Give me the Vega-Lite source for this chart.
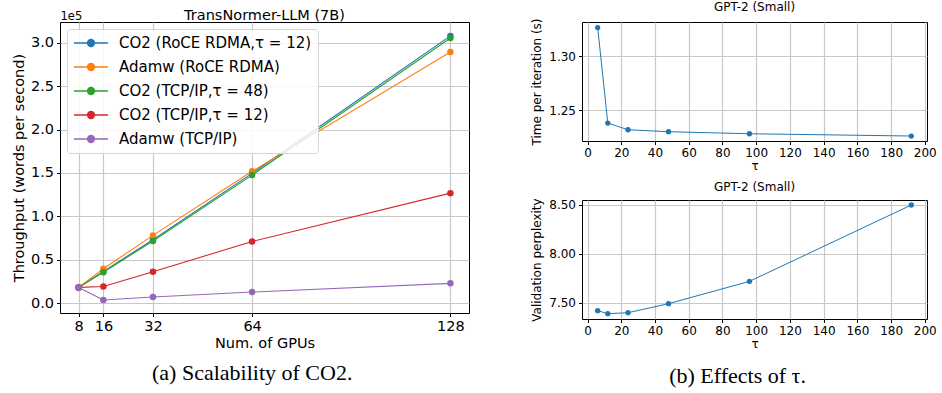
{
  "$schema": "https://vega.github.io/schema/vega-lite/v6.json",
  "padding": {"left": 10, "top": 0, "right": 2, "bottom": 2},
  "background": "white",
  "config": {
    "font": "DejaVu Sans",
    "view": {"stroke": "black", "strokeWidth": 1},
    "axis": {"domain": false, "grid": true, "gridColor": "#c8c8c8", "gridWidth": 1.2, "tickColor": "black", "tickSize": 3.5, "labelColor": "black", "titleColor": "black", "titleFontWeight": "normal", "labelPadding": 3, "labelFlush": false, "labelOverlap": false},
    "title": {"fontWeight": "normal", "color": "black"}
  },
  "datasets": {
    "tp": [
      {"series": "CO2 (RoCE RDMA,τ = 12)", "gpus": 8, "throughput": 18000},
      {"series": "CO2 (RoCE RDMA,τ = 12)", "gpus": 16, "throughput": 36500},
      {"series": "CO2 (RoCE RDMA,τ = 12)", "gpus": 32, "throughput": 73000},
      {"series": "CO2 (RoCE RDMA,τ = 12)", "gpus": 64, "throughput": 149500},
      {"series": "CO2 (RoCE RDMA,τ = 12)", "gpus": 128, "throughput": 308000},
      {"series": "Adamw (RoCE RDMA)", "gpus": 8, "throughput": 18000},
      {"series": "Adamw (RoCE RDMA)", "gpus": 16, "throughput": 39500},
      {"series": "Adamw (RoCE RDMA)", "gpus": 32, "throughput": 78000},
      {"series": "Adamw (RoCE RDMA)", "gpus": 64, "throughput": 152000},
      {"series": "Adamw (RoCE RDMA)", "gpus": 128, "throughput": 289500},
      {"series": "CO2 (TCP/IP,τ = 48)", "gpus": 8, "throughput": 18000},
      {"series": "CO2 (TCP/IP,τ = 48)", "gpus": 16, "throughput": 35500},
      {"series": "CO2 (TCP/IP,τ = 48)", "gpus": 32, "throughput": 71500},
      {"series": "CO2 (TCP/IP,τ = 48)", "gpus": 64, "throughput": 147500},
      {"series": "CO2 (TCP/IP,τ = 48)", "gpus": 128, "throughput": 305500},
      {"series": "CO2 (TCP/IP,τ = 12)", "gpus": 8, "throughput": 18000},
      {"series": "CO2 (TCP/IP,τ = 12)", "gpus": 16, "throughput": 19000},
      {"series": "CO2 (TCP/IP,τ = 12)", "gpus": 32, "throughput": 36000},
      {"series": "CO2 (TCP/IP,τ = 12)", "gpus": 64, "throughput": 71000},
      {"series": "CO2 (TCP/IP,τ = 12)", "gpus": 128, "throughput": 126700},
      {"series": "Adamw (TCP/IP)", "gpus": 8, "throughput": 18000},
      {"series": "Adamw (TCP/IP)", "gpus": 16, "throughput": 3500},
      {"series": "Adamw (TCP/IP)", "gpus": 32, "throughput": 7000},
      {"series": "Adamw (TCP/IP)", "gpus": 64, "throughput": 12700},
      {"series": "Adamw (TCP/IP)", "gpus": 128, "throughput": 22700}
    ],
    "tau": [
      {"tau": 6, "time": 1.3266, "ppl": 7.422},
      {"tau": 12, "time": 1.2383, "ppl": 7.391},
      {"tau": 24, "time": 1.2321, "ppl": 7.401},
      {"tau": 48, "time": 1.2303, "ppl": 7.493},
      {"tau": 96, "time": 1.2284, "ppl": 7.72},
      {"tau": 192, "time": 1.2263, "ppl": 8.497}
    ]
  },
  "hconcat": [
    {
      "title": {"text": "(a) Scalability of CO2.", "orient": "bottom", "anchor": "middle", "font": "Liberation Serif", "fontSize": 22, "fontWeight": "normal", "offset": 13, "dx": 12},
      "vconcat": [
        {
          "width": 409,
          "height": 291,
          "title": {"text": "TransNormer-LLM (7B)", "fontSize": 14.5, "offset": -13},
          "data": {"name": "tp"},
          "layer": [
            {
              "mark": {"type": "line", "strokeWidth": 1.1},
              "encoding": {
                "x": {"field": "gpus", "type": "quantitative", "scale": {"domain": [2, 134], "nice": false}, "axis": {"values": [8, 16, 32, 64, 128], "title": "Num. of GPUs", "labelFontSize": 14.5, "titleFontSize": 14.5, "titlePadding": 3, "labelOverlap": false}},
                "y": {"field": "throughput", "type": "quantitative", "scale": {"domain": [-11500, 324000], "nice": false, "zero": false}, "axis": {"values": [0, 50000, 100000, 150000, 200000, 250000, 300000], "labelExpr": "format(datum.value / 100000, '.1f')", "title": "Throughput (words per second)", "labelFontSize": 14.5, "titleFontSize": 14.5, "titlePadding": 4, "labelOverlap": false}},
                "color": {
                  "field": "series", "type": "nominal",
                  "scale": {"domain": ["CO2 (RoCE RDMA,τ = 12)", "Adamw (RoCE RDMA)", "CO2 (TCP/IP,τ = 48)", "CO2 (TCP/IP,τ = 12)", "Adamw (TCP/IP)"], "range": ["#1f77b4", "#ff7f0e", "#2ca02c", "#d62728", "#9467bd"]},
                  "legend": {
                    "title": null, "orient": "top-left", "offset": 7, "labelFontSize": 15, "labelColor": "black", "labelLimit": 400,
                    "symbolType": "M-1,0H3.857M1.93,0A0.5,0.5,0,1,1,0.93,0A0.5,0.5,0,1,1,1.93,0",
                    "symbolSize": 196, "symbolStrokeWidth": 1.3, "labelOffset": 30, "rowPadding": 8, "padding": 6,
                    "fillColor": "rgba(255,255,255,0.85)", "strokeColor": "#d5d5d5", "cornerRadius": 3,
                    "encode": {"symbols": {"update": {"fill": {"scale": "color", "field": "value"}, "stroke": {"scale": "color", "field": "value"}, "opacity": {"value": 1}, "fillOpacity": {"value": 1}}}}
                  }
                }
              }
            },
            {
              "mark": {"type": "point", "filled": true, "size": 42, "opacity": 1},
              "encoding": {
                "x": {"field": "gpus", "type": "quantitative", "scale": {"domain": [2, 134], "nice": false}, "axis": {"orient": "top", "title": "1e5", "titleAnchor": "start", "titleFontSize": 11.5, "titlePadding": 1, "labels": false, "ticks": false, "grid": false}},
                "y": {"field": "throughput", "type": "quantitative", "scale": {"domain": [-11500, 324000], "nice": false, "zero": false}, "axis": null},
                "color": {"field": "series", "type": "nominal", "legend": null}
              }
            }
          ],
          "resolve": {"axis": {"x": "independent", "y": "independent"}}
        }
      ]
    },
    {
      "title": {"text": "(b) Effects of τ.", "orient": "bottom", "anchor": "middle", "font": "Liberation Serif", "fontSize": 22, "fontWeight": "normal", "offset": 16, "dx": 4},
      "spacing": 8,
      "vconcat": [
        {
          "width": 345,
          "height": 119,
          "title": {"text": "GPT-2 (Small)", "fontSize": 12, "offset": 4},
          "data": {"name": "tau"},
          "encoding": {
            "x": {"field": "tau", "type": "quantitative", "scale": {"domain": [-3.3, 201.3], "nice": false}, "axis": {"values": [0, 20, 40, 60, 80, 100, 120, 140, 160, 180, 200], "title": "τ", "labelFontSize": 12, "titleFontSize": 12, "titlePadding": 2, "labelOverlap": false, "labelSeparation": 0}},
            "y": {"field": "time", "type": "quantitative", "scale": {"domain": [1.2217, 1.3318], "nice": false, "zero": false}, "axis": {"values": [1.25, 1.3], "format": ".2f", "title": "Time per iteration (s)", "labelFontSize": 12, "titleFontSize": 12, "titlePadding": 5, "labelOverlap": false}}
          },
          "layer": [
            {"mark": {"type": "line", "strokeWidth": 1, "color": "#1f77b4"}},
            {"mark": {"type": "point", "filled": true, "size": 28, "color": "#1f77b4", "opacity": 1}}
          ]
        },
        {
          "width": 345,
          "height": 119,
          "title": {"text": "GPT-2 (Small)", "fontSize": 12, "offset": 4},
          "data": {"name": "tau"},
          "encoding": {
            "x": {"field": "tau", "type": "quantitative", "scale": {"domain": [-3.3, 201.3], "nice": false}, "axis": {"values": [0, 20, 40, 60, 80, 100, 120, 140, 160, 180, 200], "title": "τ", "labelFontSize": 12, "titleFontSize": 12, "titlePadding": 2, "labelOverlap": false, "labelSeparation": 0}},
            "y": {"field": "ppl", "type": "quantitative", "scale": {"domain": [7.337, 8.548], "nice": false, "zero": false}, "axis": {"values": [7.5, 8.0, 8.5], "format": ".2f", "title": "Validation perplexity", "labelFontSize": 12, "titleFontSize": 12, "titlePadding": 5, "labelOverlap": false}}
          },
          "layer": [
            {"mark": {"type": "line", "strokeWidth": 1, "color": "#1f77b4"}},
            {"mark": {"type": "point", "filled": true, "size": 28, "color": "#1f77b4", "opacity": 1}}
          ]
        }
      ]
    }
  ],
  "spacing": 60
}
